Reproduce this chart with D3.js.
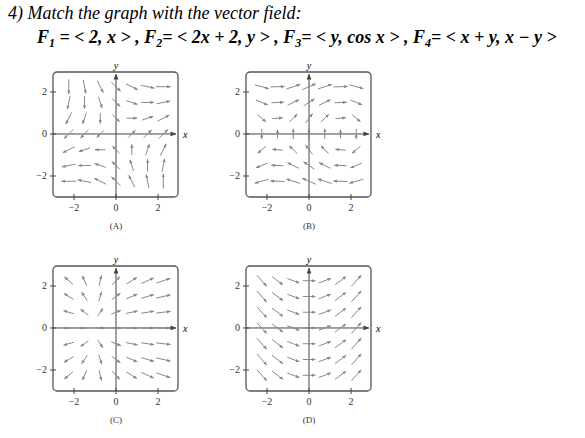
<!DOCTYPE html>
<html><head><meta charset="utf-8">
<script src="https://cdn.jsdelivr.net/npm/d3@7"></script>
<style>body{margin:0;background:#fff} text{font-family:"Liberation Serif","DejaVu Serif",serif}</style></head>
<body><svg id="c" width="585" height="438"></svg>
<script>
// panels, in reading order, with the field each one shows
var panels = ["A", "B", "C", "D"];
var fields = {
  A: function(x, y) { return [x + y, x - y]; },
  B: function(x, y) { return [y, Math.cos(x)]; },
  C: function(x, y) { return [2 * x + 2, y]; },
  D: function(x, y) { return [2, x]; }
};
var gridPts = [-2.25, -1.5, -0.75, 0, 0.75, 1.5, 2.25];
var tickVals = [-2, 0, 2];

var svg = d3.select("#c");
var origins = {A: [53, 72], B: [246, 72], C: [53, 266], D: [246, 266]};
var size = 125;
var gray = "#888";

svg.append("defs").append("marker")
  .attr("id", "ah").attr("viewBox", "0 0 10 10").attr("refX", 9).attr("refY", 5)
  .attr("markerWidth", 4).attr("markerHeight", 4).attr("orient", "auto")
  .append("path").attr("d", "M0,1L10,5L0,9z").attr("fill", gray);
svg.append("defs").append("marker")
  .attr("id", "axh").attr("viewBox", "0 0 10 10").attr("refX", 9).attr("refY", 5)
  .attr("markerWidth", 6).attr("markerHeight", 6).attr("orient", "auto")
  .append("path").attr("d", "M0,1L10,5L0,9z").attr("fill", "#444");

panels.forEach(function(p) {
  var o = origins[p];
  var x = d3.scaleLinear().domain([-3, 2.95]).range([o[0], o[0] + size]);
  var y = d3.scaleLinear().domain([-3, 2.95]).range([o[1] + size, o[1]]);
  var g = svg.append("g");
  g.append("rect").attr("x", o[0]).attr("y", o[1]).attr("width", size).attr("height", size)
    .attr("rx", 4).attr("fill", "none").attr("stroke", "#555").attr("stroke-width", 1.3);
  g.append("line").attr("x1", x(-3)).attr("x2", x(2.85)).attr("y1", y(0)).attr("y2", y(0))
    .attr("stroke", "#444").attr("marker-end", "url(#axh)");
  g.append("line").attr("x1", x(0)).attr("x2", x(0)).attr("y1", y(-3)).attr("y2", y(2.85))
    .attr("stroke", "#444").attr("marker-end", "url(#axh)");
  g.append("text").text("x").attr("x", x(2.95) + 5).attr("y", y(0) + 4)
    .attr("font-style", "italic").attr("font-size", 10);
  g.append("text").text("y").attr("x", x(0)).attr("y", o[1] - 3).attr("text-anchor", "middle")
    .attr("font-style", "italic").attr("font-size", 10);
  tickVals.forEach(function(t) {
    g.append("line").attr("x1", x(t)).attr("x2", x(t)).attr("y1", o[1] + size - 3).attr("y2", o[1] + size + 3).attr("stroke", "#444");
    g.append("line").attr("x1", o[0] - 3).attr("x2", o[0] + 3).attr("y1", y(t)).attr("y2", y(t)).attr("stroke", "#444");
    g.append("text").text(t < 0 ? "\u2212" + (-t) : t).attr("x", x(t)).attr("y", o[1] + size + 14)
      .attr("text-anchor", "middle").attr("font-size", 10).attr("fill", "#333");
    g.append("text").text(t < 0 ? "\u2212" + (-t) : t).attr("x", o[0] - 6).attr("y", y(t) + 3)
      .attr("text-anchor", "end").attr("font-size", 10).attr("fill", "#333");
  });
  g.append("text").text("(" + p + ")").attr("x", x(0)).attr("y", o[1] + size + 32)
    .attr("text-anchor", "middle").attr("font-size", 9).attr("fill", "#333");

  var pts = [];
  gridPts.forEach(function(a) { gridPts.forEach(function(b) {
    var v = fields[p](a, b);
    pts.push({x: a, y: b, u: v[0], v: v[1], m: Math.hypot(v[0], v[1])});
  }); });
  var mmax = d3.max(pts, function(d) { return d.m; });
  function L(d) { return 0.4 + 0.3 * d.m / mmax; }
  g.selectAll(".arr").data(pts.filter(function(d) { return d.m > 1e-6; })).enter().append("line")
    .attr("x1", function(d) { return x(d.x - d.u / d.m * L(d) / 2); })
    .attr("y1", function(d) { return y(d.y - d.v / d.m * L(d) / 2); })
    .attr("x2", function(d) { return x(d.x + d.u / d.m * L(d) / 2); })
    .attr("y2", function(d) { return y(d.y + d.v / d.m * L(d) / 2); })
    .attr("stroke", gray).attr("stroke-width", 1).attr("marker-end", "url(#ah)");
});

svg.append("text").text("4)  Match the graph with the vector field:").attr("x", 8).attr("y", 19)
  .attr("font-style", "italic").attr("font-size", 18);
var t = svg.append("text").attr("x", 37).attr("y", 43)
  .attr("font-style", "italic").attr("font-size", 18).attr("font-weight", "bold");
var parts = [["F", 0], ["1", 1], [" = < 2, x > , ", 0], ["F", 0], ["2", 1], ["= < 2x + 2, y > , ", 0],
  ["F", 0], ["3", 1], ["= < y, cos x > , ", 0], ["F", 0], ["4", 1], ["= < x + y, x \u2212 y >", 0]];
var prevSub = false;
parts.forEach(function(s) {
  var ts = t.append("tspan").text(s[0]);
  if (s[1]) { ts.attr("font-size", 12).attr("dy", 4); prevSub = true; }
  else { if (prevSub) ts.attr("dy", -4); prevSub = false; }
});
</script></body></html>
